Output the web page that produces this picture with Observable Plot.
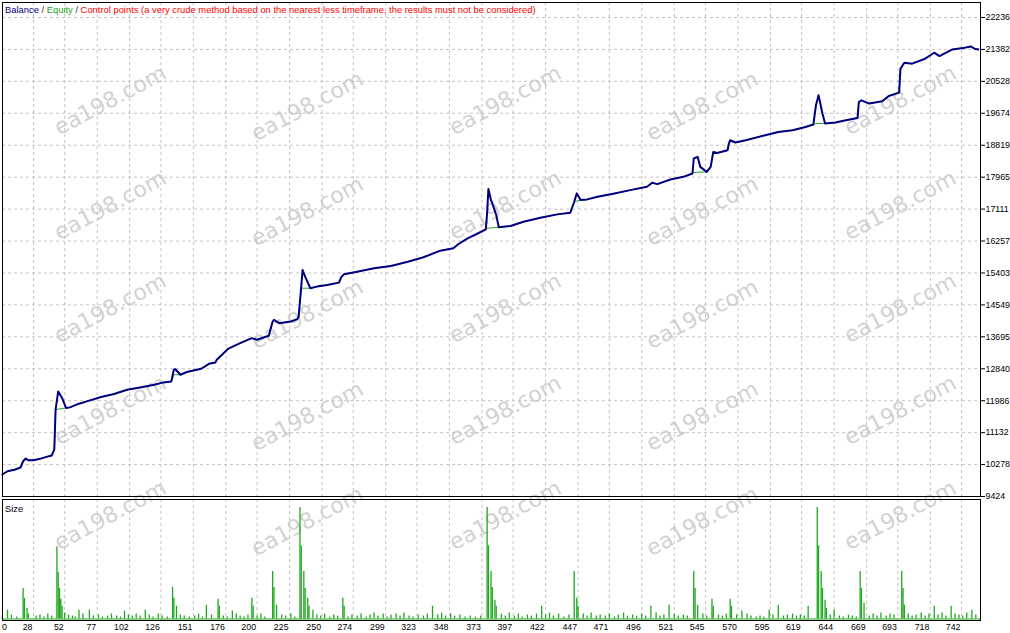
<!DOCTYPE html>
<html><head><meta charset="utf-8">
<script src="https://cdn.jsdelivr.net/npm/d3@7"></script>
<script src="https://cdn.jsdelivr.net/npm/@observablehq/plot@0.6"></script>
<style>
html,body{margin:0;padding:0;background:#fff;}
#wrap{position:relative;width:1010px;height:633px;overflow:hidden;font-family:"Liberation Sans",Arial,sans-serif;background:#fff;}
#wm{position:absolute;left:0;top:0;width:1010px;height:633px;pointer-events:none;}
.wm{position:absolute;font-family:"DejaVu Sans",sans-serif;font-size:22px;color:#d2d2d2;white-space:nowrap;transform:translate(-50%,-50%) rotate(-28deg);}
#topPanel{position:absolute;left:0;top:0;z-index:2;}
#botPanel{position:absolute;left:0;top:498px;z-index:1;}
#topPanel svg{overflow:visible;}
#legend{position:absolute;left:5px;top:4px;font-size:9.4px;white-space:nowrap;z-index:3;}
#sizeLbl{position:absolute;left:5px;top:503px;font-size:9.4px;color:#000;z-index:3;}
</style></head>
<body>
<div id="wrap">
  <div id="wm"></div>
  <div id="topPanel"></div>
  <div id="botPanel"></div>
  <div id="legend"><span style="color:#000080">Balance</span><span style="color:#333"> / </span><span style="color:#22a022">Equity</span><span style="color:#333"> / </span><span style="color:#ff0000">Control points (a very crude method based on the nearest less timeframe, the results must not be considered)</span></div>
  <div id="sizeLbl">Size</div>
</div>
<script>
// ---- data ----
const yTicks = [9424, 10278, 11132, 11986, 12840, 13695, 14549, 15403, 16257, 17111, 17965, 18819, 19674, 20528, 21382, 22236];
const xTicks = [28, 52, 77, 102, 126, 151, 176, 200, 225, 250, 274, 299, 323, 348, 373, 397, 422, 447, 471, 496, 521, 545, 570, 595, 619, 644, 669, 693, 718, 742];
const xFirstLabel = 0;

const balanceTrade = [4,8,14,18,20,22,24,28,33,38,42,44,45,47,50,53,56,63,69,80,90,100,110,121,128,134,136,137,141,146,157,160,163,168,169,178,187,196,200,209,212,213,217,226,231,232,234,235,237,241,246,254,263,265,267,277,290,303,316,328,341,351,355,362,369,376,377,378,380,381,384,386,395,405,418,431,441,444,446,449,454,462,475,487,500,504,508,518,528,535,536,539,541,546,549,551,554,562,563,564,568,576,591,601,612,622,628,630,632,635,637,645,653,662,663,665,671,681,686,694,695,698,704,714,721,725,735,743,749,752,755];
const balanceValue = [10012,10100,10146,10199,10367,10439,10394,10394,10431,10484,10520,10679,11747,12235,12059,11792,11808,11907,11969,12086,12166,12281,12342,12414,12476,12502,12815,12833,12681,12753,12841,12903,12975,13010,13082,13380,13527,13661,13615,13722,14104,14149,14061,14104,14168,14237,15038,15484,15305,14995,15038,15083,15145,15305,15369,15438,15529,15590,15705,15823,15999,16063,16178,16330,16445,16570,16997,17650,17352,17264,16952,16623,16658,16773,16880,16970,17013,17307,17531,17352,17371,17440,17531,17619,17707,17814,17779,17904,17974,18064,18465,18508,18241,18107,18241,18641,18614,18686,18865,18953,18892,18953,19087,19175,19220,19308,19372,19888,20154,19666,19399,19426,19487,19549,19976,20021,19933,19994,20136,20227,20867,21027,21001,21134,21294,21203,21382,21417,21462,21401,21382];

const equityTrade = [4,8,14,18,20,22,24,28,33,38,42,44,45,53,56,63,69,80,90,100,110,121,128,134,136,141,146,157,160,163,168,169,178,187,196,200,209,212,213,217,226,231,232,234,241,246,254,263,265,267,277,290,303,316,328,341,351,355,362,369,376,377,386,395,405,418,431,441,444,449,454,462,475,487,500,504,508,518,528,535,536,546,549,551,554,562,563,564,568,576,591,601,612,622,628,630,637,645,653,662,663,665,671,681,686,694,695,698,704,714,721,725,735,743,749,752,755];
const equityValue = [10012,10100,10146,10199,10367,10439,10394,10394,10431,10484,10520,10679,11747,11792,11808,11907,11969,12086,12166,12281,12342,12414,12476,12502,12681,12681,12753,12841,12903,12975,13010,13082,13380,13527,13661,13615,13722,14104,14149,14061,14104,14168,14237,14995,14995,15038,15083,15145,15305,15369,15438,15529,15590,15705,15823,15999,16063,16178,16330,16445,16570,16600,16623,16658,16773,16880,16970,17013,17307,17352,17371,17440,17531,17619,17707,17814,17779,17904,17974,18064,18091,18107,18241,18641,18614,18686,18865,18953,18892,18953,19087,19175,19220,19308,19372,19399,19399,19426,19487,19549,19976,20021,19933,19994,20136,20227,20867,21027,21001,21134,21294,21203,21382,21417,21462,21401,21382];

const sizeTrade = [8,20,21,23,24,46,47,48,49,50,52,63,71,98,114,135,136,138,161,170,171,181,196,197,212,213,215,233,234,236,237,239,240,243,266,267,335,377,378,380,381,383,384,419,444,446,447,503,517,536,537,539,550,551,564,565,573,594,601,624,631,632,634,635,637,638,644,664,665,667,696,697,698,721,734,750,
  4,11,15,30,33,36,39,42,55,58,60,66,74,78,81,85,88,92,95,101,104,107,110,117,120,124,127,131,141,144,148,152,155,158,165,174,177,184,187,190,193,200,203,206,219,222,226,229,246,249,252,256,259,262,270,273,277,280,284,287,290,293,297,300,303,307,310,313,317,320,324,328,331,339,342,345,349,352,356,360,364,368,372,388,391,394,398,401,404,408,411,415,422,425,428,432,436,440,451,454,457,461,464,468,471,475,478,482,485,489,492,496,499,507,510,513,521,524,528,531,543,546,555,558,561,569,577,580,584,587,590,597,605,608,612,615,618,621,641,648,651,655,658,661,671,674,677,680,684,687,690,701,704,707,711,714,717,724,727,730,737,740,743,746,753];
const sizeLots = [0.09,0.31,0.21,0.11,0.05,0.73,0.47,0.31,0.20,0.13,0.06,0.09,0.09,0.08,0.09,0.32,0.21,0.13,0.14,0.20,0.13,0.08,0.21,0.13,0.48,0.32,0.14,1.13,0.74,0.48,0.31,0.21,0.13,0.09,0.21,0.13,0.13,1.13,0.74,0.48,0.32,0.19,0.13,0.13,0.48,0.21,0.13,0.13,0.14,0.48,0.31,0.14,0.20,0.13,0.20,0.13,0.08,0.09,0.14,0.13,1.13,0.74,0.48,0.31,0.19,0.11,0.09,0.48,0.31,0.16,0.48,0.31,0.14,0.13,0.13,0.09,
  0.03,0.04,0.02,0.03,0.04,0.02,0.05,0.03,0.04,0.03,0.02,0.05,0.03,0.04,0.02,0.03,0.05,0.03,0.02,0.04,0.03,0.05,0.03,0.04,0.02,0.05,0.03,0.02,0.04,0.03,0.02,0.03,0.05,0.02,0.04,0.03,0.02,0.05,0.03,0.02,0.04,0.03,0.05,0.02,0.04,0.03,0.05,0.02,0.04,0.03,0.05,0.02,0.04,0.03,0.02,0.04,0.03,0.05,0.02,0.04,0.06,0.03,0.05,0.02,0.04,0.05,0.03,0.06,0.03,0.02,0.04,0.03,0.05,0.04,0.06,0.03,0.05,0.03,0.04,0.02,0.03,0.02,0.03,0.05,0.03,0.06,0.03,0.05,0.02,0.04,0.03,0.05,0.04,0.06,0.03,0.05,0.02,0.04,0.05,0.03,0.06,0.03,0.04,0.03,0.05,0.02,0.04,0.06,0.03,0.04,0.03,0.05,0.03,0.06,0.03,0.04,0.05,0.03,0.04,0.03,0.05,0.03,0.04,0.03,0.05,0.04,0.05,0.03,0.02,0.03,0.02,0.04,0.03,0.04,0.05,0.03,0.04,0.03,0.04,0.03,0.02,0.04,0.03,0.02,0.03,0.05,0.03,0.06,0.03,0.05,0.04,0.05,0.03,0.04,0.06,0.03,0.05,0.04,0.06,0.03,0.05,0.04,0.03,0.06,0.04];

// ---- build tables ----
const balanceRows = balanceTrade.map((t, i) => ({t, v: balanceValue[i]}));
const equityRows = equityTrade.map((t, i) => ({t, v: equityValue[i]}));
const sizeRows = sizeTrade.map((t, i) => ({t, s: sizeLots[i]}));

const xDomain = [4.15, 756.6];
const fontStyle = {background: "transparent", fontFamily: "'Liberation Sans', Arial, sans-serif", fontSize: "8.8px", color: "#000", overflow: "visible"};
const gridStyle = {stroke: "#c4c4c4", strokeOpacity: 1, strokeDasharray: "3,3"};
const fmt = d => String(d);

const topChart = Plot.plot({
  width: 1010, height: 498,
  marginLeft: 2, marginRight: 30, marginTop: 2, marginBottom: 2,
  style: fontStyle,
  x: {domain: xDomain, axis: null, label: null},
  y: {domain: [9424, 22637], label: null},
  marks: [
    Plot.gridX(xTicks, gridStyle),
    Plot.gridY(yTicks, gridStyle),
    Plot.line(equityRows, {x: "t", y: "v", stroke: "#2ca02c", strokeWidth: 1}),
    Plot.line(balanceRows, {x: "t", y: "v", stroke: "#000080", strokeWidth: 2}),
    Plot.frame({stroke: "#000"}),
    Plot.axisY(yTicks, {anchor: "right", label: null, tickSize: 4, tickPadding: 1, tickFormat: fmt, fill: "#000", stroke: "#000"})
  ]
});
document.getElementById("topPanel").appendChild(topChart);

const botChart = Plot.plot({
  width: 1010, height: 135,
  marginLeft: 2, marginRight: 30, marginTop: 1, marginBottom: 13,
  style: fontStyle,
  x: {domain: xDomain, label: null},
  y: {domain: [-0.015, 1.21], axis: null, label: null},
  marks: [
    Plot.gridX(xTicks, gridStyle),
    Plot.ruleY([0], {stroke: "#1ea81e", strokeWidth: 1}),
    Plot.ruleX(sizeRows, {x: "t", y1: 0, y2: "s", stroke: "#1ea81e", strokeWidth: 1.3}),
    Plot.frame({stroke: "#000"}),
    Plot.axisX(xTicks, {anchor: "bottom", label: null, tickSize: 0, tickPadding: 3, textAnchor: "end", dx: -1, tickFormat: fmt, fill: "#000"}),
    Plot.axisX([xFirstLabel], {anchor: "bottom", label: null, tickSize: 0, tickPadding: 3, textAnchor: "start", dx: 5, tickFormat: fmt, fill: "#000"})
  ]
});
document.getElementById("botPanel").appendChild(botChart);

// watermark
const wmLayer = document.getElementById("wm");
const wmCols = [110, 307, 505, 702, 900];
const wmRows = [100, 205, 308, 410, 515];
wmRows.forEach((ry) => wmCols.forEach((cx, c) => {
  const d = document.createElement("div");
  d.className = "wm";
  d.textContent = "ea198.com";
  d.style.left = cx + "px";
  d.style.top = (ry + (c % 2) * 6) + "px";
  wmLayer.appendChild(d);
}));
</script>
</body></html>
